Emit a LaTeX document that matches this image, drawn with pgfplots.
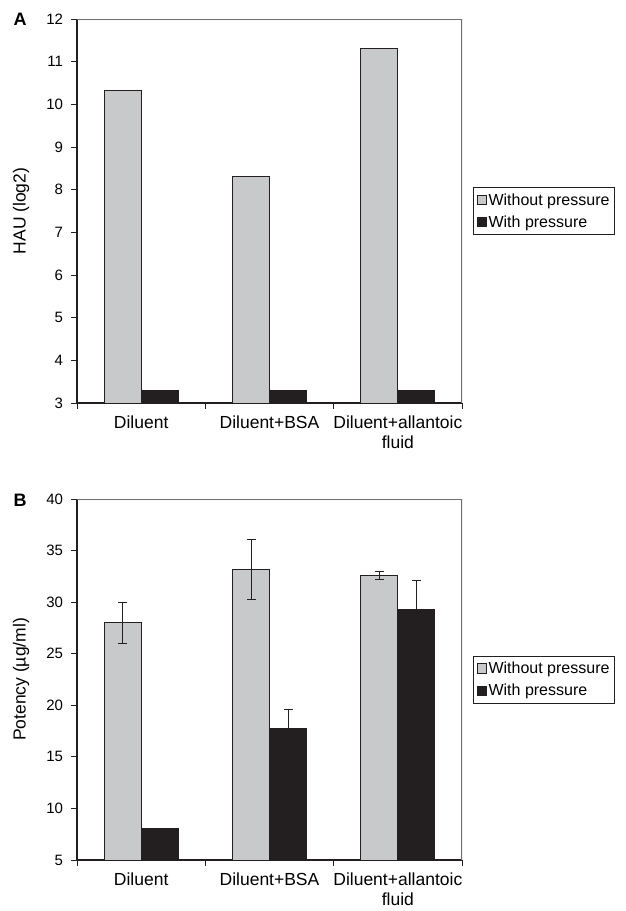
\documentclass[border=0pt]{standalone}
\usepackage{pgfplots}
\pgfplotsset{compat=1.18}
\usepackage{fontspec}
\setmainfont{Liberation Sans}
\definecolor{bargray}{RGB}{200,201,203}
\definecolor{barblack}{RGB}{35,31,32}
\definecolor{framegray}{RGB}{110,110,110}
\pgfplotsset{
  mybar/.style={
    scale only axis,
    width=385pt,
    xmin=-0.5, xmax=2.5,
    axis lines=left,
    axis line style={-, line width=1.2pt, draw=barblack},
    tick style={line width=1pt, draw=barblack},
    tick align=outside,
    major tick length=5.5pt,
    xtick={-0.5,0.5,1.5,2.5},
    xticklabels={},
    extra x ticks={0,1,2},
    extra x tick labels={Diluent,Diluent+BSA,{Diluent+allantoic\\fluid}},
    extra x tick style={major tick length=0pt, tick style={draw=none}},
    xticklabel style={align=center, font=\fontsize{17.5}{20}\selectfont, yshift=-9pt},
    yticklabel style={font=\fontsize{15}{18}\selectfont, xshift=-5pt},
    ylabel style={font=\fontsize{17.5}{20}\selectfont, at={(axis description cs:-0.145,0.5)}, anchor=center},
    /pgf/number format/assume math mode=true,
    ybar=0pt,
    bar width=37pt,
    legend style={at={(1.029,0.5)}, anchor=west, draw=barblack, line width=0.8pt,
      font=\fontsize{16}{18}\selectfont, inner xsep=3pt, inner ysep=4pt,
      row sep=5pt, cells={anchor=west}},
    legend image code/.code={\draw[#1, line width=0.6pt] (0pt,-4.7pt) rectangle (9.4pt,4.7pt);},
    clip=true,
  },
  graybar/.style={fill=bargray, draw=barblack, line width=0.8pt},
  blackbar/.style={fill=barblack, draw=barblack, line width=0.8pt},
  errs/.style={error bars/.cd, y dir=both, y explicit, error bar style={line width=0.8pt, draw=barblack},
    error mark options={rotate=90, mark size=4.5pt, line width=0.8pt, draw=barblack}},
}
\begin{document}
\begin{tikzpicture}[x=1pt,y=1pt]
\useasboundingbox (0,0) rectangle (625,-911);
% Panel A
\begin{axis}[mybar, at={(77pt,-403pt)}, anchor=south west, height=384pt,
  ymin=3, ymax=12, ytick={3,4,...,12}, ylabel={HAU (log2)}]
\addplot[graybar] coordinates {(0,10.32) (1,8.32) (2,11.32)};
\addlegendentry{Without pressure}
\addplot[blackbar] coordinates {(0,3.3) (1,3.3) (2,3.3)};
\addlegendentry{With pressure}
\draw[framegray, line width=1.2pt] (rel axis cs:0,1) -- (rel axis cs:1,1) -- (rel axis cs:1,0);
\end{axis}
\node[font=\bfseries\fontsize{18}{20}\selectfont] at (20,-19.5) {A};
% Panel B
\begin{axis}[mybar, at={(77pt,-860pt)}, anchor=south west, height=361pt,
  ymin=5, ymax=40, ytick={5,10,...,40}, ylabel={Potency (µg/ml)}]
\addplot[graybar, errs] coordinates {(0,28.0) +- (0,2.0) (1,33.2) +- (0,2.9) (2,32.6) +- (0,0.35)};
\addlegendentry{Without pressure}
\addplot[blackbar, errs] coordinates {(0,8.03) +- (0,0.05) (1,17.75) +- (0,1.85) (2,29.3) +- (0,2.85)};
\addlegendentry{With pressure}
\draw[framegray, line width=1.2pt] (rel axis cs:0,1) -- (rel axis cs:1,1) -- (rel axis cs:1,0);
\end{axis}
\node[font=\bfseries\fontsize{18}{20}\selectfont] at (20,-500) {B};
\end{tikzpicture}
\end{document}
